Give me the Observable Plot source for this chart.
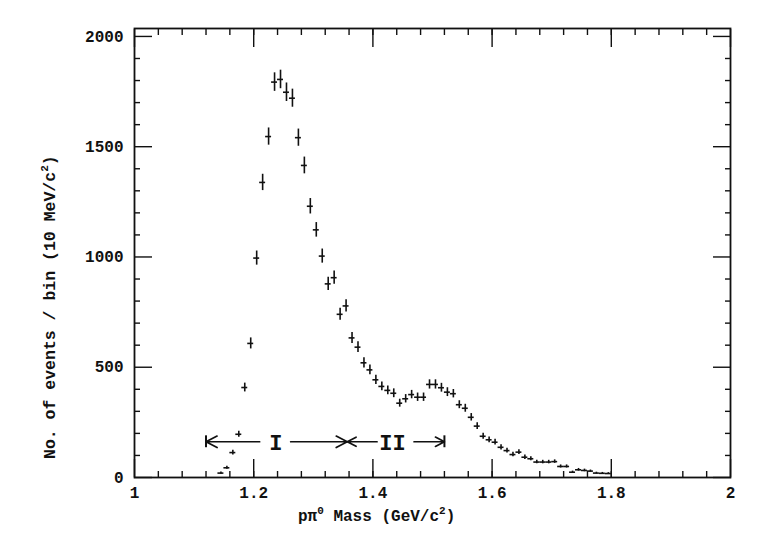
<!DOCTYPE html>
<html><head><meta charset="utf-8">
<script src="https://cdn.jsdelivr.net/npm/d3@7"></script>
<script src="https://cdn.jsdelivr.net/npm/@observablehq/plot@0.6"></script>
<style>body{margin:0;background:#fff} svg{display:block}</style>
</head><body><div id="chart"></div>
<script>
// bin centres (GeV/c^2), 10 MeV bins
const mass = [1.145,1.155,1.165,1.175,1.185,1.195,1.205,1.215,1.225,1.235,1.245,1.255,1.265,1.275,1.285,1.295,1.305,1.315,1.325,1.335,1.345,1.355,1.365,1.375,1.385,1.395,1.405,1.415,1.425,1.435,1.445,1.455,1.465,1.475,1.485,1.495,1.505,1.515,1.525,1.535,1.545,1.555,1.565,1.575,1.585,1.595,1.605,1.615,1.625,1.635,1.645,1.655,1.665,1.675,1.685,1.695,1.705,1.715,1.725,1.735,1.745,1.755,1.765,1.775,1.785,1.795];
const counts = [20,44,113,196,408,608,995,1338,1546,1793,1805,1747,1720,1541,1415,1230,1123,1004,878,906,740,778,633,591,520,488,443,413,395,382,337,357,376,364,364,422,422,407,387,380,330,314,273,233,187,171,160,137,122,104,115,92,85,70,70,70,72,50,50,24,35,32,29,20,19,18];
const errors = [5,7,11,14,20,25,32,37,39,42,42,42,41,39,38,35,33,32,30,30,27,28,25,24,23,22,21,20,20,20,18,19,19,19,19,21,21,20,20,19,18,18,17,15,14,13,13,12,11,10,11,10,9,8,8,8,8,7,7,5,6,6,5,4,4,4];
const binHalfWidth = 0.005;

const xMajorTicks = [1, 1.2, 1.4, 1.6, 1.8, 2];
const xMinorTicks = [1.04,1.08,1.12,1.16,1.2,1.24,1.28,1.32,1.36,1.4,1.44,1.48,1.52,1.56,1.6,1.64,1.68,1.72,1.76,1.8,1.84,1.88,1.92,1.96];
const yMajorTicks = [0, 500, 1000, 1500, 2000];
const yMinorTicks = [100,200,300,400,600,700,800,900,1100,1200,1300,1400,1600,1700,1800,1900];

// mass regions I and II
const arrowFrom = [1.21, 1.262, 1.407, 1.469];
const arrowTo   = [1.12, 1.357, 1.357, 1.52];
const regionEnds = [1.12, 1.52];
const regionLabels = ["I", "II"];
const regionLabelX = [1.237, 1.433];
const arrowLevel = 162;
const endBarHalf = 27;

const data = mass.map((m, i) => ({m, v: counts[i], e: errors[i]}));
const arrows = arrowFrom.map((a, i) => ({x1: a, x2: arrowTo[i]}));
const labels = regionLabels.map((t, i) => ({t, x: regionLabelX[i]}));

const FONT = "'Liberation Mono', 'DejaVu Sans Mono', monospace";
const INK = "#111";

const tickOpts = {stroke: INK, strokeWidth: 1.4, tickFormat: () => "", label: null};
const labelOpts = {tickSize: 0, label: null, fontSize: 16, fontWeight: "bold", fill: INK, tickFormat: d => String(d)};

const plot = Plot.plot({
  width: 771, height: 557,
  marginLeft: 134, marginRight: 41, marginTop: 28, marginBottom: 80,
  style: {fontFamily: FONT, fontSize: "16px", color: INK, background: "#fff"},
  x: {domain: [1, 2], label: null},
  y: {domain: [0, 2036], label: null},
  marks: [
    Plot.axisX(xMinorTicks, {anchor: "bottom", tickSize: -6, ...tickOpts}),
    Plot.axisX(xMajorTicks, {anchor: "bottom", tickSize: -18, ...tickOpts}),
    Plot.axisX(xMinorTicks, {anchor: "top", tickSize: -6, ...tickOpts}),
    Plot.axisX(xMajorTicks, {anchor: "top", tickSize: -18, ...tickOpts}),
    Plot.axisY(yMinorTicks, {anchor: "left", tickSize: -6, ...tickOpts}),
    Plot.axisY(yMajorTicks, {anchor: "left", tickSize: -18, ...tickOpts}),
    Plot.axisY(yMinorTicks, {anchor: "right", tickSize: -6, ...tickOpts}),
    Plot.axisY(yMajorTicks, {anchor: "right", tickSize: -18, ...tickOpts}),
    Plot.axisX(xMajorTicks, {anchor: "bottom", tickPadding: 9, ...labelOpts}),
    Plot.axisY(yMajorTicks, {anchor: "left", tickPadding: 11, ...labelOpts}),
    Plot.frame({stroke: INK, strokeWidth: 1.8}),
    Plot.ruleX(data, {x: "m", y1: d => d.v - d.e, y2: d => d.v + d.e, stroke: INK, strokeWidth: 1.6}),
    Plot.ruleY(data, {y: "v", x1: d => d.m - binHalfWidth, x2: d => d.m + binHalfWidth, stroke: INK, strokeWidth: 1.6}),
    Plot.arrow(arrows, {x1: "x1", x2: "x2", y1: arrowLevel, y2: arrowLevel, stroke: INK, strokeWidth: 1.7, headLength: 11, headAngle: 55}),
    Plot.ruleX(regionEnds, {x: d => d, y1: arrowLevel - endBarHalf, y2: arrowLevel + endBarHalf, stroke: INK, strokeWidth: 2}),
    Plot.text(labels, {x: "x", y: arrowLevel, text: "t", fontSize: 22, fontWeight: "bold", fontFamily: FONT, fill: INK, dy: 1})
  ]
});

document.getElementById("chart").appendChild(plot);

const svg = d3.select(plot);
// x axis label
const xl = svg.append("text")
  .attr("x", 298).attr("y", 521).attr("text-anchor", "start")
  .attr("font-family", FONT).attr("font-size", 16).attr("font-weight", "bold").attr("fill", INK);
xl.append("tspan").text("p\u03c0");
xl.append("tspan").attr("dy", -7).attr("font-size", 11).text("0");
xl.append("tspan").attr("dy", 7).text(" Mass (GeV/c");
xl.append("tspan").attr("dy", -7).attr("font-size", 11).text("2");
xl.append("tspan").attr("dy", 7).text(")");
// y axis label
const yl = svg.append("text")
  .attr("transform", "translate(55,459) rotate(-90)").attr("text-anchor", "start")
  .attr("font-family", FONT).attr("font-size", 16.5).attr("font-weight", "bold").attr("fill", INK);
yl.append("tspan").text("No. of events / bin (10 MeV/c");
yl.append("tspan").attr("dy", -7).attr("font-size", 11).text("2");
yl.append("tspan").attr("dy", 7).text(")");
</script>
</body></html>
